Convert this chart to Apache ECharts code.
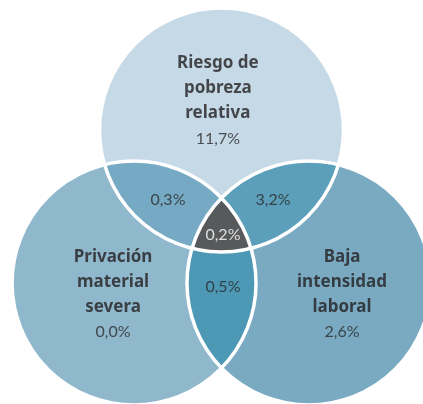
<!DOCTYPE html>
<html>
<head>
<meta charset="utf-8">
<script src="https://cdn.jsdelivr.net/npm/echarts@6/dist/echarts.min.js"></script>
<style>
  html, body { margin: 0; padding: 0; background: #fff; }
  #main { width: 423px; height: 404px; }
</style>
</head>
<body>
<div id="main"></div>
<script>
// datos del diagrama (porcentaje de población)
const setNames = [['Riesgo de', 'pobreza', 'relativa'], ['Privación', 'material', 'severa'], ['Baja', 'intensidad', 'laboral']];
const setOnly = [11.7, 0.0, 2.6];            // solo un indicador
const pairSets = [[0, 1], [0, 2], [1, 2]];    // riesgo+privación, riesgo+baja, privación+baja
const pairValues = [0.3, 3.2, 0.5];
const tripleValue = 0.2;

// layout (radio = 1 unidad)
const circles = [[0, 0.627], [-0.717, -0.627], [0.717, -0.627]];
const R = 1;
const setColors = ['#c5d9e6', '#90b8cc', '#79aac2'];
const pairColors = ['#76a9c3', '#5b9fba', '#4d98b5'];
const tripleColor = '#58595b';
const setLabelPos = [[-0.03, 0.865], [-0.889, -0.721], [0.988, -0.721]];
const pairLabelPos = [[-0.439, 0.053], [0.422, 0.053], [0.012, -0.66]];
const tripleLabelPos = [0.012, -0.234];

const fmt = v => v.toFixed(1).replace('.', ',') + '%';

// capas: círculos, luego intersecciones dobles, luego la triple
const regions = [[0], [1], [2]].concat(pairSets).concat([[0, 1, 2]]);
const regionColors = setColors.concat(pairColors).concat([tripleColor]);

function regionShape(api, set) {
  const cs = circles.map(c => api.coord(c));
  const r = api.size([R, R])[0];
  if (set.length === 1) {
    return { type: 'circle', shape: { cx: cs[set[0]][0], cy: cs[set[0]][1], r: r } };
  }
  let pts = [];
  set.forEach(i => {
    for (let k = 0; k < 720; k++) {
      const a = k / 720 * Math.PI * 2;
      const p = [cs[i][0] + r * Math.cos(a), cs[i][1] + r * Math.sin(a)];
      const inside = set.every(j => j === i || Math.hypot(p[0] - cs[j][0], p[1] - cs[j][1]) <= r + 0.01);
      if (inside) pts.push(p);
    }
  });
  const mx = pts.reduce((s, p) => s + p[0], 0) / pts.length;
  const my = pts.reduce((s, p) => s + p[1], 0) / pts.length;
  pts.sort((p, q) => Math.atan2(p[1] - my, p[0] - mx) - Math.atan2(q[1] - my, q[0] - mx));
  return { type: 'polygon', shape: { points: pts } };
}

let labelData = [];
setNames.forEach((n, i) => {
  labelData.push({
    value: setLabelPos[i],
    label: { formatter: n.map(t => '{b|' + t + '}').join('\n') + '\n{v|' + fmt(setOnly[i]) + '}' }
  });
});
pairValues.forEach((v, i) => {
  labelData.push({ value: pairLabelPos[i], label: { formatter: '{v|' + fmt(v) + '}' } });
});
labelData.push({ value: tripleLabelPos, label: { formatter: '{w|' + fmt(tripleValue) + '}' } });

let myChart = echarts.init(document.getElementById('main'));
let option = {
  animation: false,
  grid: { left: 0, right: 0, top: 0, bottom: 0 },
  xAxis: { type: 'value', min: -1.816, max: 1.652, show: false },
  yAxis: { type: 'value', min: -1.619, max: 1.693, show: false },
  series: [{
    type: 'custom',
    silent: true,
    data: regions.map((r, i) => i),
    renderItem: function (params, api) {
      const s = regionShape(api, regions[params.dataIndex]);
      s.style = { fill: regionColors[params.dataIndex] };
      return s;
    },
    z: 1
  }, {
    // contornos blancos
    type: 'custom',
    silent: true,
    data: circles.map((c, i) => i),
    renderItem: function (params, api) {
      const c = api.coord(circles[params.dataIndex]);
      return {
        type: 'circle',
        shape: { cx: c[0], cy: c[1], r: api.size([R, R])[0] },
        style: { fill: 'none', stroke: '#ffffff', lineWidth: 3.5 }
      };
    },
    z: 2
  }, {
    type: 'scatter',
    silent: true,
    symbolSize: 0,
    data: labelData,
    label: {
      show: true,
      position: 'inside',
      align: 'center',
      rich: {
        b: { fontFamily: 'Noto Sans', fontWeight: 'bold', fontSize: 17, color: '#231f20', lineHeight: 25, align: 'center' },
        v: { fontFamily: 'Lato', fontSize: 16, color: '#2b2b2b', lineHeight: 25, align: 'center' },
        w: { fontFamily: 'Lato', fontSize: 16, color: '#ffffff', lineHeight: 25, align: 'center' }
      }
    },
    z: 3
  }]
};
option && myChart.setOption(option);
window.addEventListener('resize', () => { myChart.resize(); });
</script>
</body>
</html>
